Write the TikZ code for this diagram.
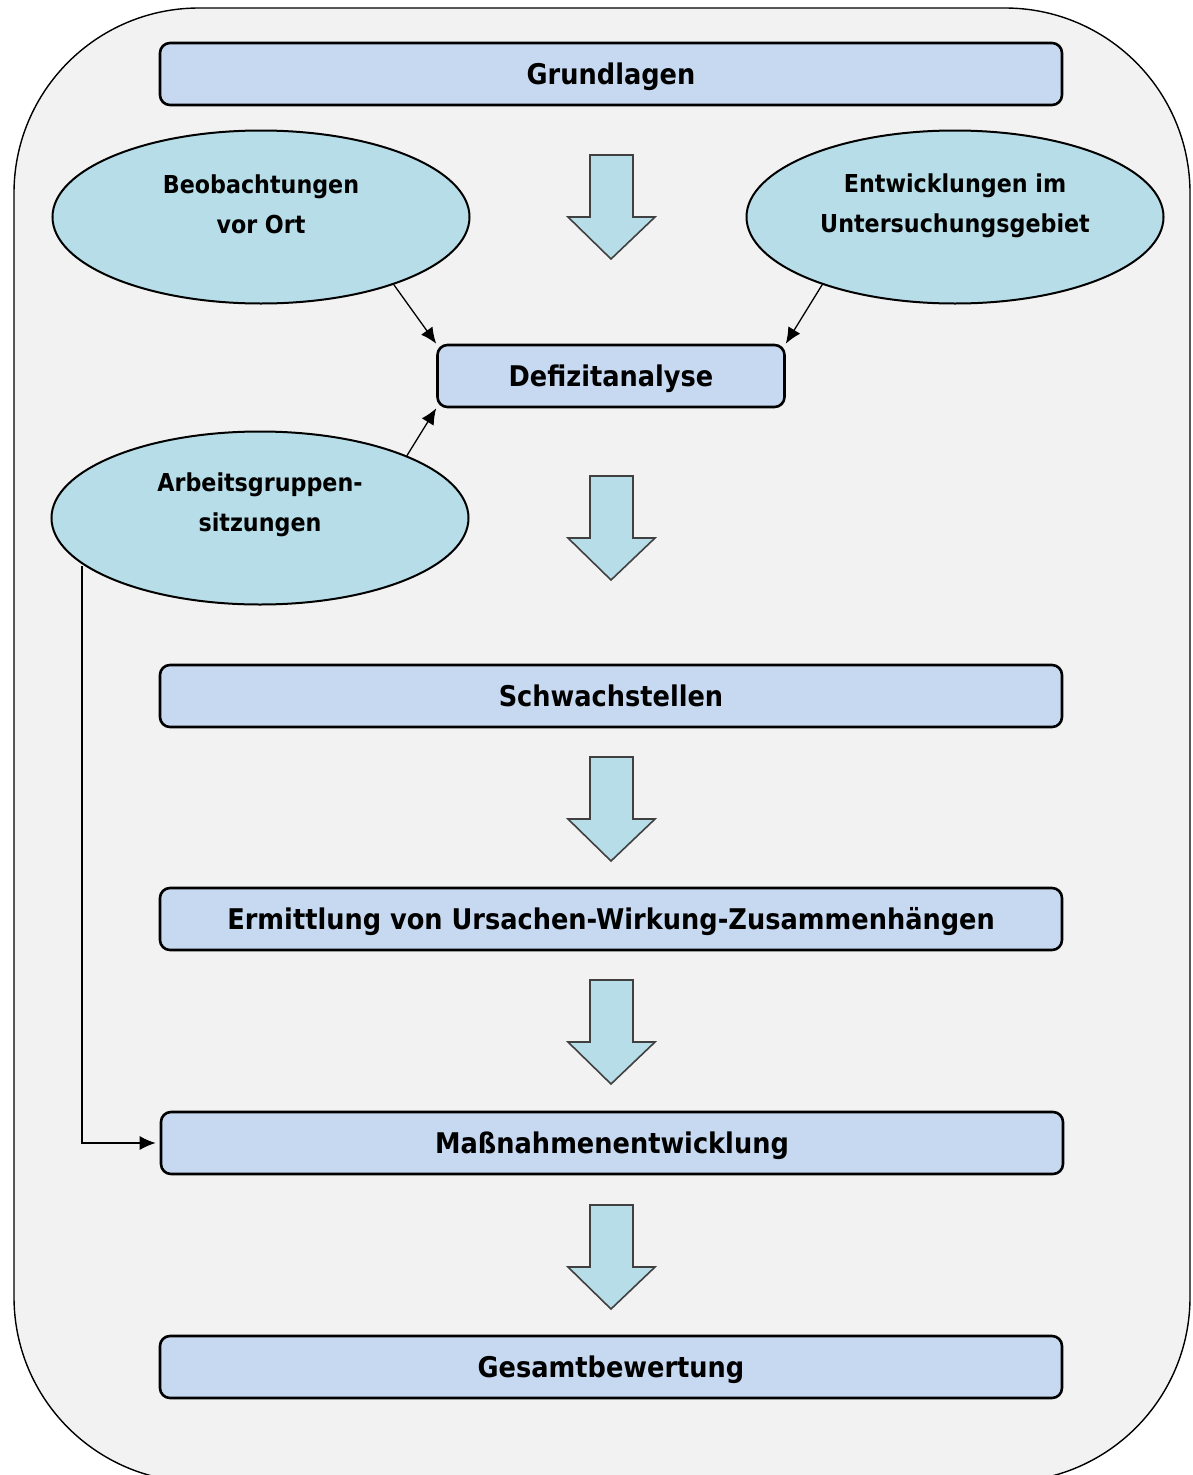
\documentclass[tikz,border=0pt]{standalone}
\usepackage{fontspec}
\setmainfont{DejaVu Sans Condensed}
\usetikzlibrary{arrows.meta,shapes.geometric}
\definecolor{rahmen}{HTML}{F2F2F2}
\definecolor{kasten}{HTML}{C6D9F1}
\definecolor{oval}{HTML}{B7DEE8}
\definecolor{pfeilrand}{HTML}{404040}
\tikzset{
	kastenstil/.style={draw=black, line width=2.6pt, fill=kasten, rounded corners=10pt,
		minimum height=62pt, font=\bfseries\fontsize{28.5}{34}\selectfont, inner sep=0pt,
		text height=20.5pt, text depth=0pt},
	ovalstil/.style={ellipse, draw=black, line width=2pt, fill=oval,
		minimum width=417pt, minimum height=173pt, inner sep=0pt},
	ovaltext/.style={align=center, font=\bfseries\fontsize{24.7}{40}\selectfont},
	linie/.style={-{Latex[length=16pt,width=14pt]}, line width=1.3pt},
}
\begin{document}
\begin{tikzpicture}[x=1pt,y=-1pt]
	\useasboundingbox (0,0) rectangle (1192,1475);
	\draw[fill=rahmen, line width=1.4pt, rounded corners=185pt] (14,8) rectangle (1190,1482);
	% Kaesten
	\node[kastenstil, minimum width=902pt] (grund) at (611,74) {Grundlagen};
	\node[kastenstil, minimum width=347pt] (defizit) at (611,376) {Defizitanalyse};
	\node[kastenstil, minimum width=902pt] (schwach) at (611,696) {Schwachstellen};
	\node[kastenstil, minimum width=902pt] (ursache) at (611,919) {Ermittlung von Ursachen-Wirkung-Zusammenhängen};
	\node[kastenstil, minimum width=902pt] (mass) at (612,1143) {Maßnahmenentwicklung};
	\node[kastenstil, minimum width=902pt] (gesamt) at (611,1367) {Gesamtbewertung};
	% Ellipsen
	\node[ovalstil] (beob) at (261,217) {};
	\node[ovaltext] (beobT) at (261,204) {Beobachtungen\\vor Ort};
	\node[ovalstil] (entw) at (955,217) {};
	\node[ovaltext] (entwT) at (955,206) {Entwicklungen im\\Untersuchungsgebiet};
	\node[ovalstil] (arbeit) at (260,518) {};
	\node[ovaltext] (arbeitT) at (260,505) {Arbeitsgruppen-\\sitzungen};
	% Blockpfeile
	\foreach \y in {155,476,757,980,1205}
		\draw[fill=oval, draw=pfeilrand, line width=1.6pt, line join=miter]
			(590,\y) -- (633,\y) -- (633,\y+62) -- (655,\y+62) -- (611,\y+104)
			-- (568,\y+62) -- (590,\y+62) -- cycle;
	% Verbindungen
	\draw[linie] (beob.-27) -- (defizit.north west);
	\draw[linie] (entw.-153) -- (defizit.north east);
	\draw[linie] (arbeit.23) -- (defizit.south west);
	\coordinate (abzweig) at (82,566);
	\draw[linie, shorten >=4pt] (abzweig) |- (mass.west);
\end{tikzpicture}
\end{document}
